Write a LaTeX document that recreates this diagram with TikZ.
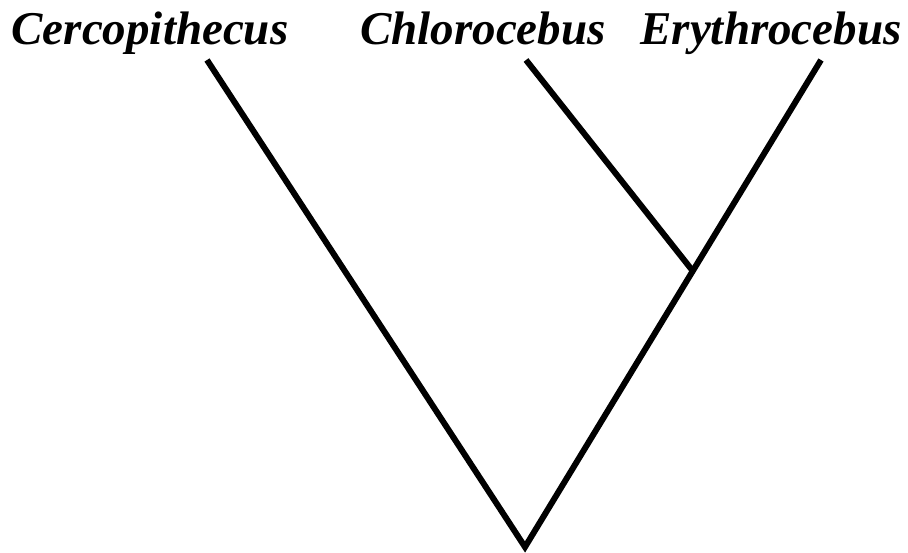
\documentclass[tikz,border=0pt]{standalone}
\usepackage{fontspec}
\setmainfont{Liberation Serif}
\usetikzlibrary{positioning}

\begin{document}
\begin{tikzpicture}[
  x=1pt, y=1pt,
  taxon/.style={font=\fontsize{47}{52}\selectfont\bfseries\itshape, anchor=base, inner sep=0pt},
  branch/.style={draw=black, line width=6pt, line join=miter}
]
\useasboundingbox (0,0) rectangle (908,552);
% taxa
\node[taxon] (cercl) at (150,507) {Cercopithecus};
\node[taxon] (chlol) at (483,507) {Chlorocebus};
\node[taxon] (eryl)  at (771,507) {Erythrocebus};
% tree
\coordinate (cerc)  at (207,492);
\coordinate (chlo)  at (526,492);
\coordinate (ery)   at (821,492);
\coordinate (root)  at (525,5);
\coordinate (split) at (692,282);
\draw[branch] (cerc) -- (root) -- (ery);
\draw[branch] (chlo) -- (split);
\end{tikzpicture}
\end{document}
